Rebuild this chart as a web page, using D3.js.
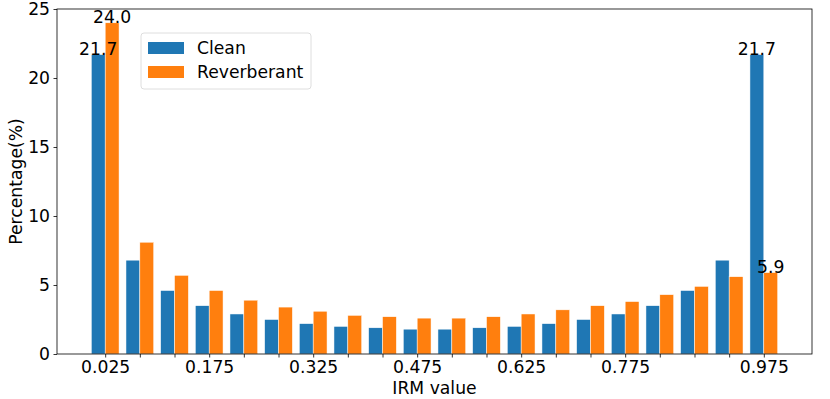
<!DOCTYPE html>
<html>
<head>
<meta charset="utf-8">
<script src="https://cdn.jsdelivr.net/npm/d3@7"></script>
<style>
  body { margin: 0; background: #fff; }
  text { font-family: "DejaVu Sans", sans-serif; fill: #000; }
</style>
</head>
<body>
<div id="viz"></div>
<script>
// bin centres of the IRM histogram
var bins = ["0.025","0.075","0.125","0.175","0.225","0.275","0.325","0.375","0.425","0.475",
            "0.525","0.575","0.625","0.675","0.725","0.775","0.825","0.875","0.925","0.975"];
var clean =       [21.7, 6.8, 4.6, 3.5, 2.9, 2.5, 2.2, 2.0, 1.9, 1.8,
                   1.8, 1.9, 2.0, 2.2, 2.5, 2.9, 3.5, 4.6, 6.8, 21.7];
var reverberant = [24.0, 8.1, 5.7, 4.6, 3.9, 3.4, 3.1, 2.8, 2.7, 2.6,
                   2.6, 2.7, 2.9, 3.2, 3.5, 3.8, 4.3, 4.9, 5.6, 5.9];
// only some bins get a label on the x axis
var xTickLabels = ["0.025","","","0.175","","","0.325","","","0.475",
                   "","","0.625","","","0.775","","","","0.975"];
var yTicks = [0, 5, 10, 15, 20, 25];
var series = ["Clean", "Reverberant"];
var colors = ["#1f77b4", "#ff7f0e"];
// bars that carry a value label: [series index, bin index]
var annotated = [[0, 0], [1, 0], [0, 19], [1, 19]];

var width = 830, height = 399;
var margin = ({top: 9, right: 18, bottom: 45, left: 57});
var barW = 0.4;
var fs = 17.2;

var x = d3.scaleLinear()
  .domain([-1.39, bins.length - 1 + 1.39])
  .range([margin.left, width - margin.right]);
var y = d3.scaleLinear()
  .domain([0, 25])
  .range([height - margin.bottom, margin.top]);

var svg = d3.select('#viz')
  .append('svg')
  .attr('width', width)
  .attr('height', height);

var data = [clean, reverberant];

// bars
data.forEach(function(vals, s) {
  svg.append("g")
    .attr("fill", colors[s])
    .attr("stroke", "#fff")
    .attr("stroke-width", 0.5)
    .selectAll("rect")
    .data(vals)
    .join("rect")
    .attr("x", (d, i) => x(i - barW + s * barW))
    .attr("width", x(barW) - x(0))
    .attr("y", d => y(d))
    .attr("height", d => y(0) - y(d));
});

// value labels
svg.append("g")
  .attr("font-size", fs)
  .attr("text-anchor", "middle")
  .selectAll("text")
  .data(annotated)
  .join("text")
  .attr("x", d => x(d[1] - barW + d[0] * barW + barW / 2))
  .attr("y", d => y(data[d[0]][d[1]]))
  .text(d => data[d[0]][d[1]].toFixed(1));

// x axis
var xAxis = svg.append("g")
  .attr("transform", "translate(0," + y(0) + ")")
  .call(d3.axisBottom(x)
    .tickValues(d3.range(bins.length))
    .tickFormat(i => xTickLabels[i])
    .tickSize(3.5)
    .tickPadding(3.5));
// y axis
var yAxis = svg.append("g")
  .attr("transform", "translate(" + margin.left + ",0)")
  .call(d3.axisLeft(y)
    .tickValues(yTicks)
    .tickSize(3.5)
    .tickPadding(3.5));

[xAxis, yAxis].forEach(function(ax) {
  ax.select(".domain").remove();
  ax.selectAll("text").attr("font-size", fs).attr("font-family", "DejaVu Sans").attr("fill", "#000");
  ax.selectAll("line").attr("stroke", "#000").attr("stroke-width", 0.8);
});

// frame
svg.append("rect")
  .attr("x", margin.left)
  .attr("y", margin.top)
  .attr("width", width - margin.right - margin.left)
  .attr("height", y(0) - margin.top)
  .attr("fill", "none")
  .attr("stroke", "#000")
  .attr("stroke-width", 0.8);

// axis labels
svg.append("text")
  .attr("x", (margin.left + width - margin.right) / 2)
  .attr("y", 394)
  .attr("text-anchor", "middle")
  .attr("font-size", fs)
  .text("IRM value");
svg.append("text")
  .attr("transform", "translate(22," + (margin.top + y(0)) / 2 + ") rotate(-90)")
  .attr("text-anchor", "middle")
  .attr("font-size", fs)
  .text("Percentage(%)");

// legend
var legend = svg.append("g").attr("transform", "translate(141,33)");
legend.append("rect")
  .attr("width", 170)
  .attr("height", 56)
  .attr("rx", 3)
  .attr("fill", "#fff")
  .attr("fill-opacity", 0.8)
  .attr("stroke", "#d5d5d5")
  .attr("stroke-width", 0.8);
var items = legend.selectAll("g.item")
  .data(series)
  .join("g")
  .attr("class", "item")
  .attr("transform", (d, i) => "translate(7," + (9 + i * 24) + ")");
items.append("rect")
  .attr("width", 36)
  .attr("height", 12)
  .attr("fill", (d, i) => colors[i]);
items.append("text")
  .attr("x", 49)
  .attr("y", 12)
  .attr("font-size", fs)
  .text(d => d);
</script>
</body>
</html>
